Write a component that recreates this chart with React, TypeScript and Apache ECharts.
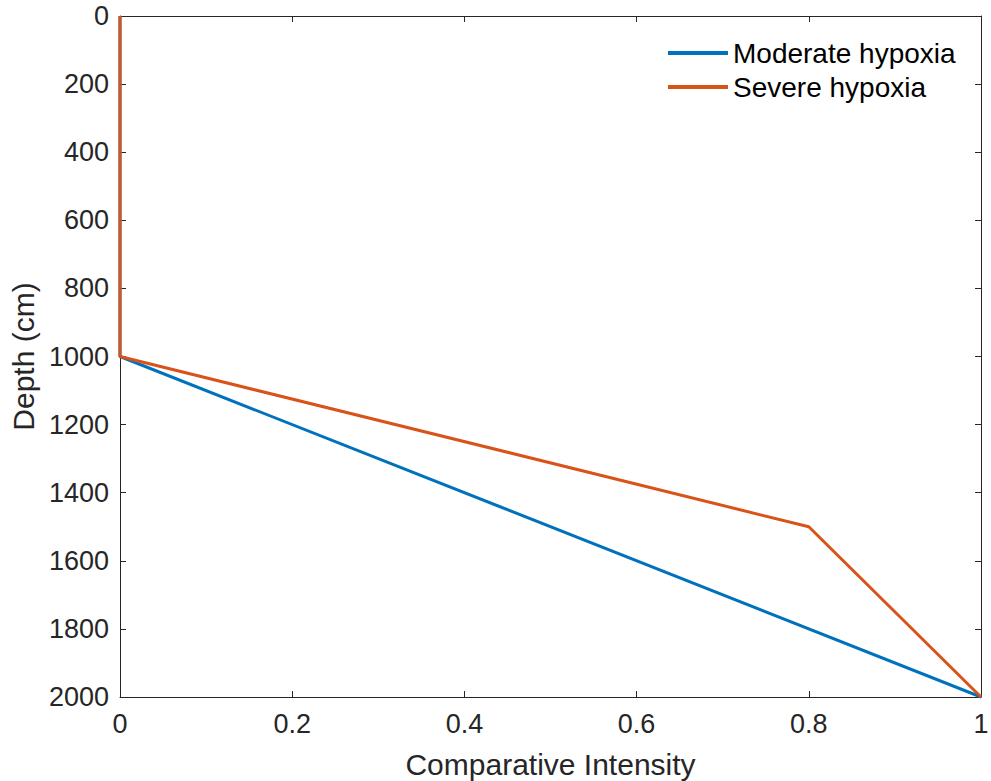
import React, { useEffect, useRef } from "react";
import * as echarts from "echarts";

const seriesNames = ["Moderate hypoxia", "Severe hypoxia"];
const moderateIntensity = [0, 0, 1];
const moderateDepth = [0, 1000, 2000];
const severeIntensity = [0, 0, 0.8, 1];
const severeDepth = [0, 1000, 1500, 2000];
const colors = ["#0072BD", "#D95319"];

const FONT = "'Liberation Sans', Arial, Helvetica, sans-serif";
const AXIS_COLOR = "#262626";

export default function App() {
  const ref = useRef<HTMLDivElement>(null);
  useEffect(() => {
    if (!ref.current) return;
    const chart = echarts.init(ref.current, undefined, { renderer: "svg" });
    const pairs = (xs: number[], ys: number[]) => xs.map((x, i) => [x, ys[i]]);
    const axisCommon = {
      axisLine: { show: true, onZero: false, lineStyle: { color: AXIS_COLOR, width: 1 } },
      axisTick: { show: true, inside: true, length: 6, lineStyle: { color: AXIS_COLOR, width: 1 } },
      splitLine: { show: false },
    };
    chart.setOption({
      animation: false,
      backgroundColor: "#ffffff",
      textStyle: { fontFamily: FONT },
      grid: { left: 120, right: 10, top: 16, bottom: 84, containLabel: false, outerBoundsMode: "none" },
      legend: {
        data: seriesNames,
        orient: "vertical",
        left: 668,
        top: 39,
        padding: 0,
        icon: "rect",
        itemWidth: 60,
        itemHeight: 4,
        itemGap: 6,
        textStyle: { fontSize: 28, color: "#000000", fontFamily: FONT, lineHeight: 28, padding: [0, 0, 0, 0] },
      },
      xAxis: [
        {
          type: "value",
          min: 0,
          max: 1,
          interval: 0.2,
          position: "bottom",
          name: "Comparative Intensity",
          nameLocation: "middle",
          nameGap: 52,
          nameTextStyle: { fontSize: 30, color: AXIS_COLOR, fontFamily: FONT },
          axisLabel: {
            fontSize: 27,
            color: AXIS_COLOR,
            margin: 13,
            fontFamily: FONT,
            formatter: (v: number) => String(Math.round(v * 10) / 10),
          },
          ...axisCommon,
        },
        {
          type: "value",
          min: 0,
          max: 1,
          interval: 0.2,
          position: "top",
          axisLabel: { show: false },
          ...axisCommon,
        },
      ],
      yAxis: [
        {
          type: "value",
          min: 0,
          max: 2000,
          interval: 200,
          inverse: true,
          position: "left",
          name: "Depth (cm)",
          nameLocation: "middle",
          nameGap: 78,
          nameTextStyle: { fontSize: 30, color: AXIS_COLOR, fontFamily: FONT },
          axisLabel: {
            fontSize: 27,
            color: AXIS_COLOR,
            margin: 11,
            fontFamily: FONT,
            formatter: (v: number) => String(v),
          },
          ...axisCommon,
        },
        {
          type: "value",
          min: 0,
          max: 2000,
          interval: 200,
          inverse: true,
          position: "right",
          axisLabel: { show: false },
          ...axisCommon,
        },
      ],
      series: [
        {
          name: seriesNames[0],
          type: "line",
          data: pairs(moderateIntensity, moderateDepth),
          showSymbol: false,
          symbol: "none",
          lineStyle: { color: colors[0], width: 3 },
          itemStyle: { color: colors[0] },
          clip: false,
        },
        {
          name: seriesNames[1],
          type: "line",
          data: pairs(severeIntensity, severeDepth),
          showSymbol: false,
          symbol: "none",
          lineStyle: { color: colors[1], width: 3 },
          itemStyle: { color: colors[1] },
          clip: false,
        },
      ],
    });
    return () => chart.dispose();
  }, []);
  return (
    <div
      ref={ref}
      style={{ position: "fixed", left: 0, top: 0, width: 991, height: 781, background: "#fff" }}
    />
  );
}
